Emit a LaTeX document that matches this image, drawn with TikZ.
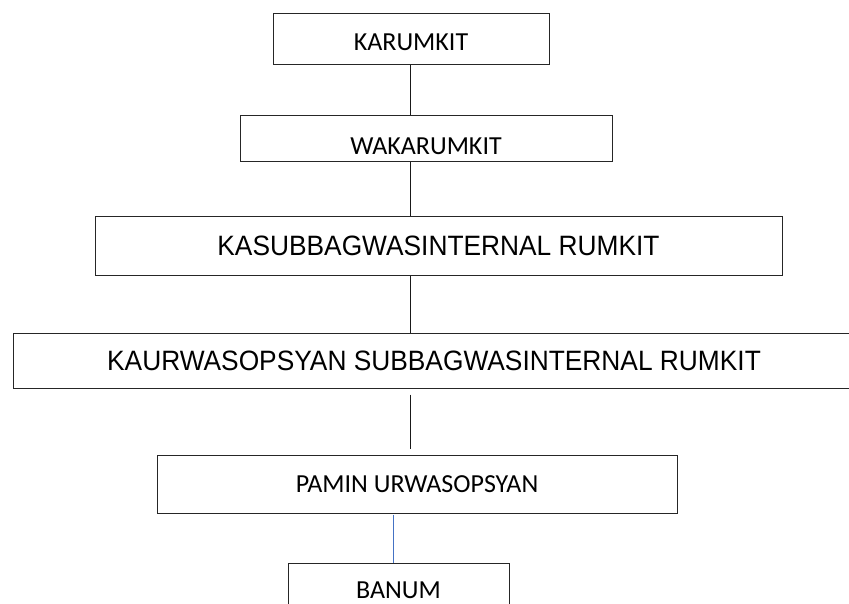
\documentclass[tikz,border=0pt]{standalone}
\usepackage{fontspec}
\newfontfamily\calib{Carlito}
\newfontfamily\arialf[FakeStretch=0.94]{Liberation Sans}
\definecolor{linkblue}{RGB}{68,114,196}
\begin{document}
\begin{tikzpicture}[x=1pt,y=-1pt,
  box/.style={draw=black!85, line width=1pt, fill=white, inner sep=0pt, anchor=center},
  cal/.style={font=\calib\fontsize{26}{30}\selectfont},
  ari/.style={font=\arialf\fontsize{28}{32}\selectfont},
  conn/.style={draw=black!90, line width=1pt},
  bconn/.style={draw=linkblue, line width=0.9pt}]
\useasboundingbox (0,0) rectangle (849,603);
\clip (0,0) rectangle (849,603);
\coordinate (spine) at (410,0);
\coordinate (bspine) at (393,0);
\node[box, cal, minimum width=276pt, minimum height=51pt, text height=17pt+6pt, text depth=0pt] (karumkit) at (411,38.5) {KARUMKIT};
\node[box, cal, minimum width=372pt, minimum height=46pt, text height=17pt+16pt, text depth=0pt] (wakarumkit) at (426,138) {WAKARUMKIT};
\node[box, ari, minimum width=687pt, minimum height=59pt] (kasubbag) at (438.5,245.5) {KASUBBAGWASINTERNAL RUMKIT};
\node[box, ari, minimum width=842pt, minimum height=55pt] (kaur) at (434,360.5) {KAURWASOPSYAN SUBBAGWASINTERNAL RUMKIT};
\node[box, cal, minimum width=520pt, minimum height=58pt] (pamin) at (417,484) {PAMIN URWASOPSYAN};
\node[box, cal, minimum width=221pt, minimum height=56pt, text height=17pt, text depth=3pt] (banum) at (398.5,591) {BANUM};
\draw[conn] (karumkit.south -| spine) -- (wakarumkit.north -| spine);
\draw[conn] (wakarumkit.south -| spine) -- (kasubbag.north -| spine);
\draw[conn] (kasubbag.south -| spine) -- (kaur.north -| spine);
\draw[conn, shorten <=6pt, shorten >=6pt] (kaur.south -| spine) -- (pamin.north -| spine);
\draw[bconn, shorten <=1pt] (pamin.south -| bspine) -- (banum.north -| bspine);
\end{tikzpicture}
\end{document}
